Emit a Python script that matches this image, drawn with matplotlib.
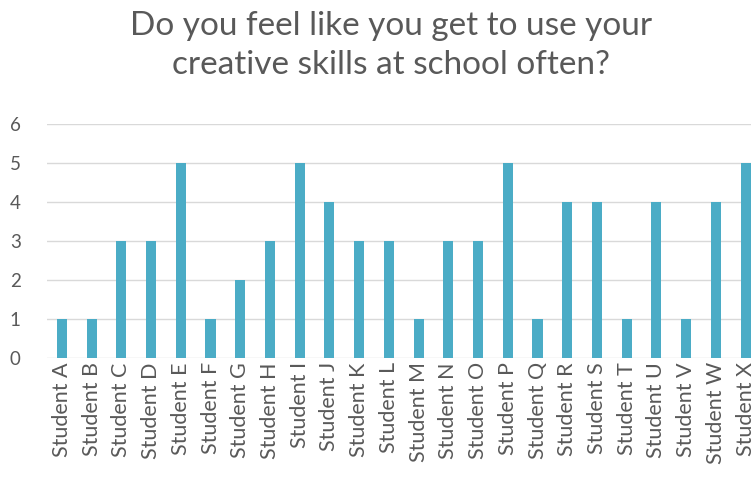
import matplotlib.pyplot as plt

students = ["Student " + c for c in "ABCDEFGHIJKLMNOPQRSTUVWX"]
scores = [1, 1, 3, 3, 5, 1, 2, 3, 5, 4, 3, 3, 1, 3, 3, 5, 1, 4, 4, 1, 4, 1, 4, 5]
title = "Do you feel like you get to use your\ncreative skills at school often?"

plt.rcParams['font.family'] = ['Lato', 'DejaVu Sans']
text_col = '#595959'

fig = plt.figure(figsize=(7.51, 4.78), dpi=100)
ax = fig.add_axes([0.0626, 0.251, 0.95, 0.4895])

x = range(len(students))
ax.bar(x, scores, width=0.34, color='#4BACC6', zorder=3)

ax.set_xlim(-0.5, len(students) - 0.5)
ax.set_ylim(0, 6)
ax.set_yticks(range(0, 7))
ax.set_xticks(list(x))
ax.set_xticklabels(students, rotation=90)
ax.grid(axis='y', color='#d9d9d9', linewidth=1, zorder=0)
for s in ax.spines.values():
    s.set_visible(False)
ax.tick_params(axis='both', length=0, labelcolor=text_col)
ax.tick_params(axis='y', labelsize=13.5, pad=19)
ax.tick_params(axis='x', labelsize=15.5, pad=3)

fig.text(0.521, 0.978, title, ha='center', va='top', fontsize=24,
         color=text_col, linespacing=1.4)

fig.savefig('out.png', dpi=100)
